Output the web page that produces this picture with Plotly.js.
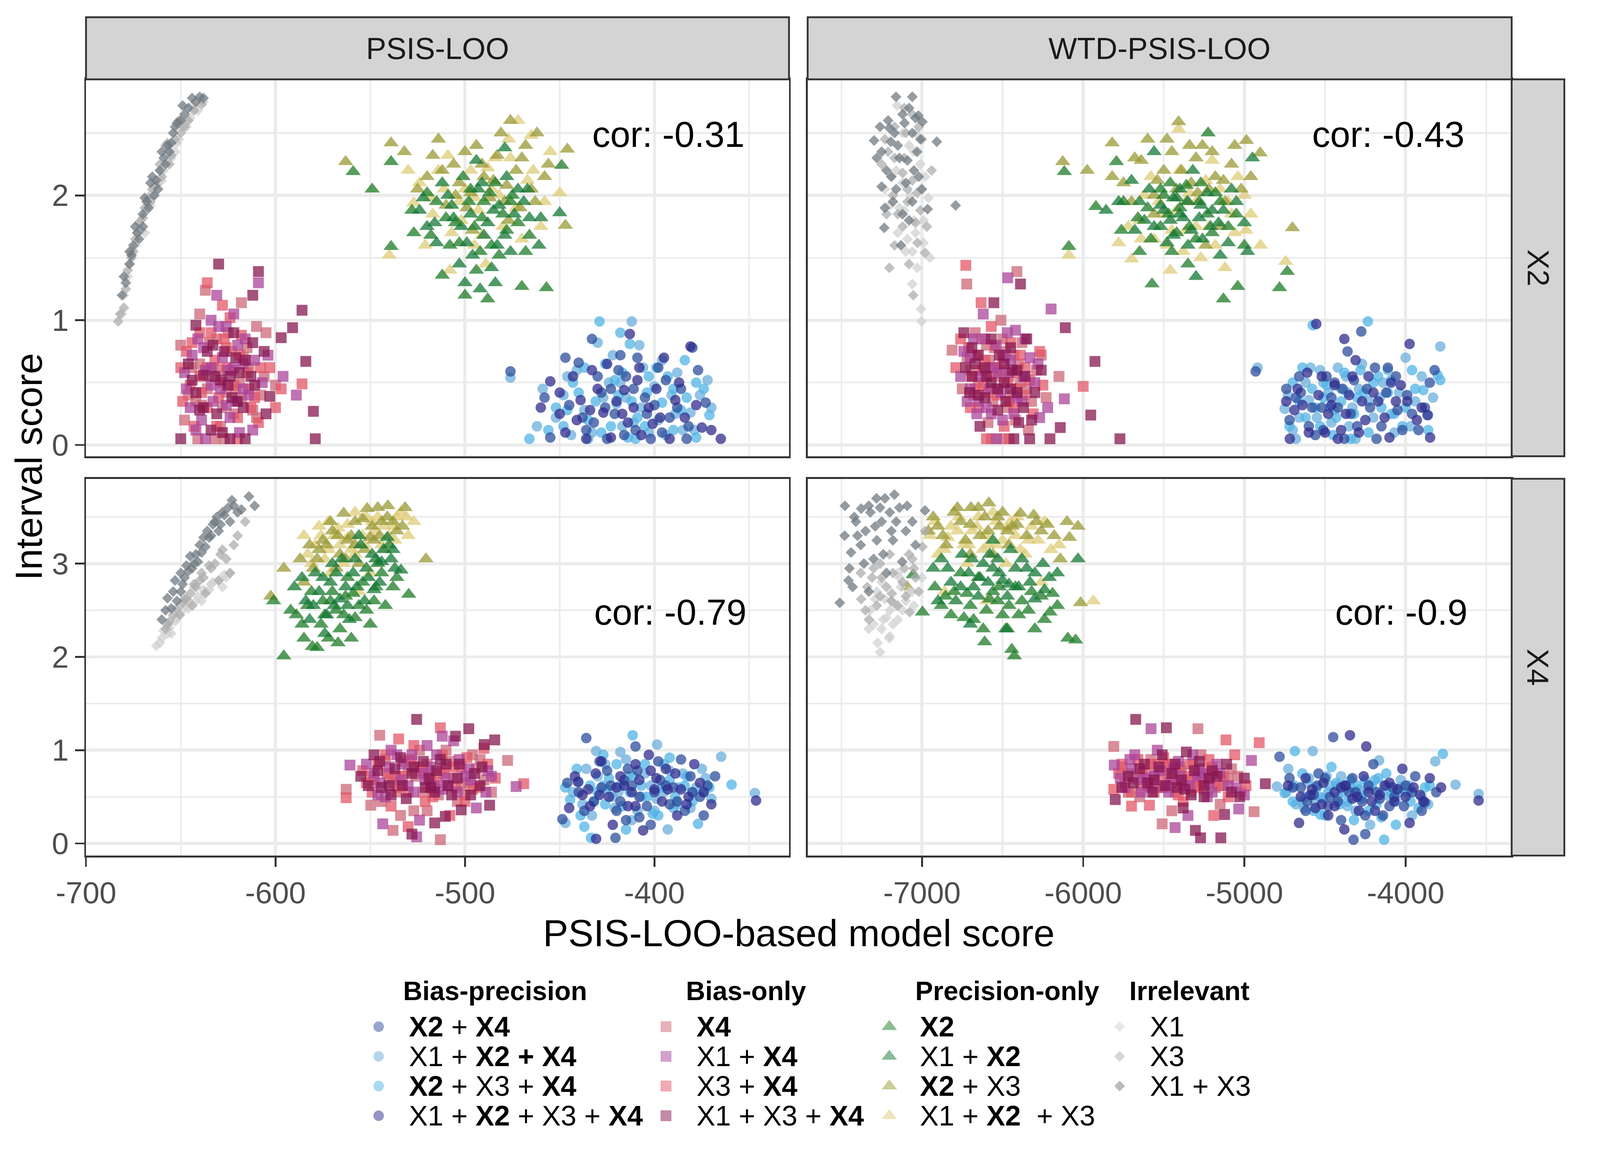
<!DOCTYPE html>
<html>
<head>
<meta charset="utf-8">
<script src="https://cdn.plot.ly/plotly-3.0.1.min.js"></script>
<style>
  html, body { margin: 0; padding: 0; background: #fff; overflow: hidden; }
</style>
</head>
<body>
<div id="chart"></div>
<script>
// ---- legend labels (one per sub-series) ----
const biasPrecisionLabels = ['<b>X2</b> + <b>X4</b>', 'X1 + <b>X2 + X4</b>', '<b>X2</b> + X3 + <b>X4</b>', 'X1 + <b>X2</b> + X3 + <b>X4</b>'];
const biasOnlyLabels = ['<b>X4</b>', 'X1 + <b>X4</b>', 'X3 + <b>X4</b>', 'X1 + X3 + <b>X4</b>'];
const precisionOnlyLabels = ['<b>X2</b>', 'X1 + <b>X2</b>', '<b>X2</b> + X3', 'X1 + <b>X2</b>  + X3'];
const irrelevantLabels = ['X1', 'X3', 'X1 + X3'];

const colLabels = ['PSIS-LOO', 'WTD-PSIS-LOO'];
const rowLabels = ['X2', 'X4'];
const corLabels = ['cor: -0.31', 'cor: -0.43', 'cor: -0.79', 'cor: -0.9'];

// tick labels (plain hyphen minus, as in the original)
const xTicksPsis = [-700, -600, -500, -400];
const xTickTextPsis = ['-700', '-600', '-500', '-400'];
const xTicksWtd = [-7000, -6000, -5000, -4000];
const xTickTextWtd = ['-7000', '-6000', '-5000', '-4000'];

// ---- points [model score, interval score], one inner list per sub-series ----
// PSIS-LOO / X2
const psisX2_biasPrecision = [
  [[-476,0.59],[-455,0.06],[-440,0.66],[-428,0.42],[-421,0.25],[-415,0.55],[-410,0.12],[-405,0.38],[-398,0.62],[-392,0.22],[-386,0.45],[-380,0.78],[-373,0.34],[-432,0.18],[-418,0.72],[-402,0.05],
   [-445,0.32],[-436,0.12],[-425,0.05],[-419,0.6],[-411,0.45],[-404,0.25],[-396,0.1],[-388,0.3],[-383,0.05],[-430,0.55],
   [-458,0.38],[-447,0.7],[-438,0.22],[-426,0.3],[-416,0.08],[-409,0.7],[-400,0.32],[-394,0.52],[-382,0.15],[-377,0.6],[-433,0.85],[-423,0.45]],
  [[-476,0.54],[-462,0.15],[-448,0.4],[-437,0.28],[-430,0.82],[-424,0.5],[-417,0.15],[-412,0.99],[-407,0.3],[-400,0.47],[-394,0.08],[-388,0.58],[-381,0.26],[-376,0.4],[-444,0.08],[-420,0.33],
   [-452,0.22],[-441,0.6],[-433,0.1],[-422,0.72],[-415,0.38],[-406,0.62],[-398,0.2],[-391,0.4],[-385,0.12],[-370,0.3],
   [-459,0.45],[-446,0.55],[-435,0.05],[-427,0.38],[-418,0.5],[-411,0.18],[-403,0.1],[-396,0.68],[-389,0.25],[-379,0.12],[-372,0.52],[-408,0.8]],
  [[-466,0.05],[-452,0.3],[-443,0.5],[-435,0.2],[-426,0.65],[-419,0.4],[-413,0.81],[-409,0.22],[-403,0.55],[-396,0.34],[-390,0.12],[-384,0.68],[-378,0.5],[-371,0.24],[-429,0.99],[-414,0.06],
   [-448,0.15],[-440,0.42],[-431,0.35],[-423,0.15],[-417,0.58],[-410,0.05],[-404,0.42],[-393,0.55],[-386,0.28],[-378,0.06],
   [-456,0.12],[-446,0.28],[-437,0.62],[-428,0.1],[-421,0.52],[-412,0.35],[-405,0.15],[-399,0.62],[-390,0.45],[-383,0.38],[-374,0.45],[-418,0.9]],
  [[-455,0.51],[-447,0.1],[-439,0.36],[-433,0.6],[-427,0.26],[-423,0.06],[-416,0.44],[-413,0.89],[-408,0.62],[-401,0.17],[-395,0.7],[-389,0.36],[-381,0.79],[-375,0.14],[-365,0.05],[-411,0.3],
   [-450,0.25],[-443,0.55],[-436,0.05],[-430,0.45],[-420,0.35],[-414,0.18],[-407,0.08],[-399,0.45],[-392,0.05],[-384,0.22],
   [-460,0.3],[-450,0.42],[-441,0.2],[-434,0.28],[-425,0.65],[-417,0.25],[-409,0.52],[-403,0.3],[-397,0.22],[-387,0.5],[-378,0.32],[-370,0.12]]
];
const psisX2_biasOnly = [
  [[-650,0.8],[-642,0.35],[-637,1.24],[-633,0.62],[-629,0.15],[-625,0.9],[-621,0.45],[-617,0.7],[-612,0.28],[-606,0.55],[-600,0.48],[-641,0.05],[-627,0.05],[-618,1.14],[-635,0.82],[-610,0.95],
   [-646,0.4],[-640,0.65],[-636,0.45],[-631,0.85],[-628,0.3],[-623,0.75],[-619,0.5],[-614,0.62],[-608,0.4],[-632,0.05],
   [-648,0.2],[-644,0.62],[-639,0.32],[-635,0.55],[-630,0.6],[-626,0.42],[-622,0.25],[-618,0.38],[-615,0.78],[-610,0.22],[-640,1.05],[-605,0.9]],
  [[-648,0.58],[-644,0.72],[-639,0.2],[-634,0.48],[-630,0.95],[-626,0.32],[-622,0.62],[-619,0.1],[-614,0.4],[-609,1.3],[-604,0.72],[-596,0.55],[-589,0.4],[-631,1.2],[-616,0.85],[-637,0.05],
   [-645,0.3],[-641,0.85],[-637,0.6],[-633,0.35],[-628,0.7],[-624,0.22],[-620,0.8],[-617,0.45],[-611,0.68],[-622,1.05],
   [-647,0.45],[-642,0.12],[-638,0.78],[-634,0.62],[-629,0.45],[-625,0.6],[-621,0.35],[-617,0.65],[-612,0.12],[-607,0.5],[-626,0.95],[-634,1.0]],
  [[-650,0.62],[-645,0.48],[-640,0.9],[-636,0.3],[-632,0.68],[-628,0.5],[-624,1.02],[-620,0.22],[-615,0.58],[-611,0.38],[-603,0.62],[-597,0.45],[-586,0.49],[-626,0.78],[-636,1.3],[-609,0.18],
   [-647,0.75],[-643,0.15],[-639,0.42],[-634,0.9],[-630,0.38],[-626,0.62],[-622,0.48],[-618,0.88],[-613,0.3],[-620,0.05],
   [-649,0.35],[-644,0.82],[-640,0.55],[-636,0.62],[-631,0.15],[-627,0.85],[-623,0.6],[-619,0.72],[-614,0.45],[-608,0.62],[-628,1.12],[-600,0.3]],
  [[-650,0.05],[-642,0.96],[-638,0.56],[-634,0.12],[-630,1.45],[-627,0.75],[-623,0.38],[-619,0.58],[-616,0.05],[-612,0.82],[-609,1.39],[-597,0.86],[-591,0.94],[-586,1.08],[-584,0.67],[-580,0.27],[-579,0.05],[-603,0.39],[-622,0.9],[-631,0.25],
   [-644,0.52],[-640,0.28],[-636,0.75],[-632,0.55],[-628,0.1],[-625,0.48],[-621,0.7],[-617,0.3],[-613,0.55],[-606,0.75],
   [-646,0.65],[-642,0.42],[-638,0.3],[-633,0.8],[-629,0.52],[-624,0.55],[-620,0.35],[-616,0.68],[-611,0.48],[-605,0.25],[-624,0.05],[-612,1.2]]
];
const psisX2_precisionOnly = [
  [[-559,2.19],[-549,2.05],[-539,2.27],[-539,1.59],[-527,1.7],[-520,2.02],[-512,1.36],[-505,1.78],[-498,1.95],[-492,1.55],[-488,1.17],[-484,2.1],[-478,1.72],[-470,1.27],[-457,1.26],[-449,2.24],
   [-515,1.95],[-508,1.6],[-501,2.15],[-495,1.75],[-490,1.95],[-486,1.6],[-480,1.85],[-475,2.0],[-468,1.55],[-494,1.4],
   [-528,1.88],[-518,1.68],[-510,1.82],[-503,1.62],[-497,2.05],[-491,1.82],[-487,2.02],[-482,1.52],[-476,1.95],[-472,1.78],[-466,1.68],[-500,1.2]],
  [[-524,1.88],[-515,1.62],[-509,2.0],[-503,1.45],[-497,1.85],[-494,2.28],[-490,1.68],[-486,1.42],[-482,1.92],[-476,1.55],[-472,2.05],[-466,1.82],[-461,1.6],[-450,1.86],[-500,1.3],[-479,2.38],
   [-520,1.75],[-512,2.1],[-506,1.82],[-499,1.62],[-493,2.05],[-488,1.78],[-483,1.6],[-478,2.15],[-469,1.95],[-484,1.3],
   [-522,1.98],[-516,1.78],[-507,1.92],[-502,1.75],[-496,1.52],[-491,2.1],[-485,1.88],[-479,1.68],[-474,1.85],[-467,2.05],[-460,1.82],[-492,1.25]],
  [[-563,2.27],[-539,2.42],[-517,2.32],[-510,1.92],[-503,2.1],[-496,1.72],[-491,2.25],[-487,1.98],[-481,2.5],[-477,1.8],[-473,2.2],[-468,2.4],[-463,1.95],[-458,2.15],[-446,2.37],[-447,1.76],
   [-525,2.05],[-514,2.45],[-506,2.25],[-499,1.9],[-494,2.4],[-485,2.12],[-479,1.95],[-471,1.9],[-462,2.5],[-476,2.6],
   [-532,2.35],[-520,2.15],[-512,2.2],[-505,2.0],[-497,2.02],[-490,2.15],[-483,2.32],[-478,2.08],[-470,2.3],[-465,2.05],[-456,2.25],[-500,2.35]],
  [[-540,1.52],[-527,1.94],[-521,1.6],[-514,2.2],[-507,1.7],[-500,2.05],[-493,1.88],[-489,1.45],[-484,2.3],[-472,2.6],[-470,1.65],[-465,2.48],[-460,1.75],[-455,2.35],[-450,2.02],[-508,1.4],
   [-530,2.2],[-517,1.85],[-511,2.05],[-503,1.95],[-497,2.2],[-491,1.68],[-486,2.05],[-480,1.75],[-476,2.3],[-467,2.12],
   [-524,2.1],[-518,1.98],[-509,2.32],[-502,1.8],[-495,1.98],[-488,2.22],[-482,2.0],[-477,2.45],[-473,1.9],[-464,2.2],[-458,1.95],[-495,1.6]]
];
const psisX2_irrelevant = [
  [[-681,1.05],[-678,1.35],[-674,1.6],[-671,1.8],[-666,1.92],[-662,2.1],[-659,2.2],[-655,2.3],[-651,2.45],[-647,2.55],[-643,2.7],[-638,2.75],[-664,2.0],[-652,2.42],[-669,1.7],[-657,2.35],
   [-676,1.55],[-668,1.88],[-660,2.12],[-653,2.35],[-645,2.62],[-641,2.68],
   [-680,1.2],[-677,1.45],[-673,1.7],[-665,2.02],[-661,2.2],[-656,2.4],[-649,2.55],[-644,2.72]],
  [[-683,0.99],[-680,1.1],[-676,1.5],[-672,1.78],[-669,1.9],[-665,2.05],[-660,2.15],[-656,2.25],[-653,2.45],[-650,2.5],[-646,2.6],[-639,2.73],[-667,1.98],[-658,2.4],[-678,1.4],
   [-674,1.65],[-670,1.82],[-663,2.08],[-655,2.32],[-648,2.55],[-643,2.68],
   [-682,1.05],[-679,1.25],[-675,1.55],[-671,1.72],[-666,1.95],[-661,2.25],[-657,2.42],[-651,2.6]],
  [[-681,1.2],[-679,1.3],[-677,1.45],[-675,1.6],[-673,1.7],[-670,1.85],[-668,1.95],[-664,2.0],[-666,2.1],[-661,2.2],[-659,2.3],[-657,2.4],[-654,2.5],[-652,2.58],[-648,2.65],[-644,2.78],[-640,2.79],[-662,2.05],[-656,2.35],[-670,1.75],
   [-676,1.52],[-672,1.65],[-667,1.9],[-663,2.12],[-658,2.25],[-655,2.42],[-650,2.6],[-646,2.7],
   [-680,1.35],[-677,1.55],[-674,1.75],[-669,1.98],[-665,2.15],[-660,2.35],[-653,2.55],[-649,2.72],[-642,2.75],[-638,2.78]]
];

// WTD-PSIS-LOO / X2
const wtdX2_biasPrecision = [
  [[-4930,0.59],[-4720,0.2],[-4650,0.42],[-4560,0.08],[-4490,0.55],[-4420,0.3],[-4360,0.75],[-4300,0.15],[-4240,0.45],[-4180,0.05],[-4110,0.62],[-4050,0.28],[-3990,0.4],[-3920,0.12],[-3850,0.5],[-4275,0.91],
   [-4680,0.38],[-4600,0.15],[-4520,0.3],[-4440,0.5],[-4380,0.05],[-4320,0.52],[-4220,0.3],[-4150,0.15],[-4060,0.55],[-3960,0.25],
   [-4740,0.45],[-4660,0.55],[-4580,0.3],[-4510,0.12],[-4460,0.38],[-4390,0.45],[-4340,0.25],[-4190,0.62],[-4120,0.42],[-4020,0.12],[-3880,0.3],[-3820,0.6]],
  [[-4918,0.62],[-4750,0.29],[-4680,0.05],[-4600,0.36],[-4530,0.6],[-4460,0.18],[-4400,0.45],[-4330,0.3],[-4270,0.65],[-4200,0.22],[-4140,0.5],[-4070,0.1],[-4000,0.7],[-3940,0.35],[-3860,0.24],[-3785,0.79],
   [-4700,0.12],[-4620,0.5],[-4550,0.22],[-4480,0.42],[-4420,0.62],[-4350,0.15],[-4290,0.45],[-4160,0.38],[-4090,0.25],[-3900,0.55],
   [-4730,0.4],[-4660,0.22],[-4590,0.62],[-4510,0.5],[-4440,0.28],[-4370,0.55],[-4310,0.05],[-4230,0.35],[-4110,0.6],[-4040,0.42],[-3970,0.15],[-3830,0.38]],
  [[-4700,0.5],[-4620,0.22],[-4576,0.96],[-4510,0.38],[-4450,0.08],[-4380,0.58],[-4320,0.25],[-4260,0.42],[-4234,0.99],[-4150,0.3],[-4090,0.52],[-4020,0.15],[-3960,0.6],[-3890,0.44],[-3801,0.56],[-3785,0.52],
   [-4660,0.35],[-4580,0.45],[-4530,0.15],[-4470,0.3],[-4400,0.35],[-4340,0.05],[-4280,0.6],[-4200,0.5],[-4110,0.42],[-4000,0.3],
   [-4720,0.15],[-4640,0.62],[-4560,0.3],[-4490,0.48],[-4430,0.22],[-4360,0.42],[-4300,0.38],[-4230,0.1],[-4170,0.55],[-4070,0.25],[-3940,0.45],[-3860,0.12]],
  [[-4718,0.05],[-4640,0.32],[-4554,0.97],[-4480,0.25],[-4420,0.05],[-4350,0.4],[-4290,0.1],[-4230,0.55],[-4170,0.35],[-4100,0.06],[-4030,0.48],[-3975,0.81],[-3930,0.2],[-3864,0.24],[-3848,0.06],[-4380,0.85],
   [-4690,0.28],[-4610,0.58],[-4540,0.4],[-4500,0.1],[-4440,0.48],[-4370,0.25],[-4310,0.68],[-4250,0.2],[-4130,0.22],[-4060,0.35],
   [-4740,0.35],[-4670,0.45],[-4600,0.1],[-4520,0.55],[-4460,0.32],[-4400,0.12],[-4330,0.55],[-4270,0.35],[-4200,0.42],[-4090,0.5],[-3990,0.35],[-3900,0.3]]
];
const wtdX2_biasOnly = [
  [[-6813,0.76],[-6722,1.29],[-6680,0.4],[-6630,0.85],[-6590,0.18],[-6550,0.62],[-6510,1.0],[-6470,0.3],[-6430,0.72],[-6390,0.5],[-6340,0.12],[-6290,0.6],[-6230,0.38],[-6150,0.55],[-6570,0.05],[-6411,1.39],
   [-6700,0.6],[-6650,0.5],[-6600,0.8],[-6560,0.35],[-6520,0.55],[-6480,0.75],[-6440,0.4],[-6400,0.65],[-6350,0.45],[-6500,0.05],
   [-6750,0.45],[-6720,0.7],[-6670,0.9],[-6620,0.6],[-6580,0.68],[-6540,0.45],[-6500,0.85],[-6460,0.55],[-6420,0.2],[-6380,0.82],[-6320,0.35],[-6260,0.72]],
  [[-6760,0.55],[-6700,0.7],[-6660,0.25],[-6620,1.05],[-6580,0.45],[-6540,0.8],[-6500,0.2],[-6460,0.58],[-6420,0.92],[-6380,0.35],[-6330,0.7],[-6270,0.22],[-6199,1.09],[-6117,0.37],[-6468,1.34],[-6538,0.05],
   [-6720,0.35],[-6680,0.85],[-6640,0.55],[-6600,0.3],[-6560,0.62],[-6510,0.42],[-6470,0.9],[-6430,0.25],[-6370,0.55],[-6300,0.5],
   [-6740,0.75],[-6700,0.45],[-6650,0.35],[-6610,0.85],[-6570,0.25],[-6530,0.58],[-6490,0.72],[-6450,0.68],[-6410,0.38],[-6360,0.85],[-6280,0.65],[-6220,0.3]],
  [[-6790,0.62],[-6728,1.44],[-6690,0.55],[-6650,0.3],[-6610,0.68],[-6570,0.95],[-6530,0.4],[-6490,0.15],[-6450,0.82],[-6410,0.45],[-6360,0.62],[-6310,0.25],[-6250,0.48],[-6000,0.47],[-6633,1.14],[-6459,0.05],
   [-6710,0.78],[-6670,0.45],[-6630,0.6],[-6590,0.42],[-6550,0.78],[-6510,0.6],[-6470,0.5],[-6430,0.3],[-6390,0.72],[-6600,0.05],
   [-6760,0.85],[-6700,0.3],[-6660,0.72],[-6620,0.48],[-6580,0.55],[-6540,0.62],[-6500,0.7],[-6460,0.35],[-6420,0.58],[-6370,0.4],[-6330,0.52],[-6270,0.75]],
  [[-6740,0.9],[-6705,0.42],[-6670,0.65],[-6640,0.15],[-6600,0.55],[-6554,1.14],[-6520,0.72],[-6480,0.35],[-6440,0.6],[-6389,1.29],[-6350,0.85],[-6300,0.42],[-6206,0.05],[-6142,0.14],[-6111,0.94],[-5953,0.24],[-5927,0.67],[-5772,0.05],[-6332,0.05],[-6400,0.18],
   [-6690,0.55],[-6650,0.72],[-6610,0.38],[-6570,0.5],[-6530,0.28],[-6490,0.65],[-6450,0.45],[-6410,0.6],[-6370,0.3],[-6430,0.05],
   [-6730,0.62],[-6690,0.78],[-6650,0.4],[-6610,0.62],[-6570,0.85],[-6530,0.45],[-6490,0.5],[-6450,0.78],[-6410,0.42],[-6360,0.55],[-6320,0.2],[-6260,0.6]]
];
const wtdX2_precisionOnly = [
  [[-6117,2.19],[-6089,1.59],[-5921,1.91],[-5794,2.27],[-5763,1.72],[-5650,1.55],[-5573,1.29],[-5500,2.0],[-5420,1.7],[-5350,1.45],[-5280,1.95],[-5225,2.5],[-5130,1.17],[-5041,1.27],[-4782,1.26],[-4734,1.39],
   [-5600,1.9],[-5520,1.75],[-5460,2.1],[-5400,1.9],[-5340,1.75],[-5270,2.1],[-5200,1.7],[-5150,1.95],[-5050,1.85],[-5450,1.55],
   [-5750,1.95],[-5660,1.82],[-5580,1.65],[-5520,2.05],[-5470,1.85],[-5420,1.98],[-5360,2.08],[-5300,1.65],[-5230,1.85],[-5180,2.02],[-5100,1.75],[-5000,1.6]],
  [[-5858,1.88],[-5700,2.12],[-5620,1.8],[-5560,2.35],[-5480,1.62],[-5440,1.98],[-5380,1.82],[-5320,2.2],[-5260,1.65],[-5200,1.88],[-5150,1.52],[-5080,2.05],[-5000,1.78],[-4950,2.3],[-5300,1.35],[-5400,2.05],
   [-5680,1.72],[-5590,2.05],[-5520,1.92],[-5460,1.8],[-5350,1.95],[-5280,1.82],[-5230,2.02],[-5160,1.78],[-5100,1.62],[-5350,1.6],
   [-5780,1.95],[-5650,1.95],[-5560,1.75],[-5500,1.88],[-5440,1.68],[-5400,1.85],[-5330,1.72],[-5270,1.92],[-5210,1.75],[-5130,1.88],[-5050,1.95],[-4980,1.55]],
  [[-6127,2.27],[-5975,2.2],[-5820,2.42],[-5700,1.95],[-5640,2.28],[-5560,1.85],[-5500,2.2],[-5408,2.59],[-5360,1.95],[-5300,2.3],[-5220,2.05],[-5150,1.75],[-5080,2.25],[-4987,2.44],[-4902,2.34],[-4702,1.74],
   [-5750,2.1],[-5600,2.45],[-5450,2.35],[-5420,2.05],[-5330,2.1],[-5260,2.4],[-5180,2.15],[-5120,1.95],[-5020,2.05],[-5240,1.6],
   [-5820,2.15],[-5680,2.3],[-5540,2.12],[-5480,2.45],[-5390,2.2],[-5340,2.4],[-5290,2.02],[-5200,2.35],[-5130,2.12],[-5060,2.4],[-4960,2.15],[-5560,2.0]],
  [[-6089,1.52],[-5699,1.49],[-5620,2.0],[-5560,1.65],[-5500,1.85],[-5408,2.53],[-5380,1.55],[-5300,1.75],[-5240,2.12],[-5180,1.6],[-5100,1.95],[-5040,2.15],[-4960,1.85],[-4900,1.6],[-4744,1.47],[-5460,1.4],
   [-5720,1.75],[-5650,1.8],[-5580,2.15],[-5450,1.72],[-5340,2.02],[-5270,1.5],[-5200,2.28],[-5120,1.42],[-5060,1.7],[-5000,2.0],
   [-5780,1.62],[-5640,1.65],[-5530,1.95],[-5480,1.6],[-5420,1.88],[-5360,1.72],[-5300,1.95],[-5220,1.75],[-5150,2.05],[-5080,1.85],[-4990,1.72],[-5400,2.2]]
];
const wtdX2_irrelevant = [
  [[-7003,0.99],[-7006,1.09],[-7060,1.29],[-7030,1.42],[-7100,1.55],[-6990,1.62],[-7150,1.7],[-7050,1.8],[-7200,1.92],[-6960,1.98],[-7120,2.1],[-7010,2.25],[-7230,2.05],[-7080,2.4],[-6950,1.5],[-7155,2.72],
   [-7040,1.7],[-7110,1.88],[-7070,2.0],[-6980,2.15],[-7160,2.2],[-7040,2.5],
   [-7090,1.65],[-7140,1.9],[-7010,2.05],[-7190,2.15],[-7050,2.35],[-7120,2.5],[-6990,1.8],[-7060,1.55]],
  [[-7054,1.2],[-6981,1.54],[-7028,1.62],[-7202,1.42],[-7120,1.75],[-7010,1.88],[-7180,2.0],[-7060,2.12],[-6940,2.2],[-7250,2.25],[-7110,2.3],[-7000,2.45],[-7170,2.55],[-7060,2.65],[-7090,1.95],[-6970,1.75],
   [-7080,1.45],[-7150,1.85],[-7030,2.02],[-7120,2.18],[-7210,2.35],[-7100,2.5],
   [-7170,1.6],[-7040,1.78],[-7220,1.85],[-7090,2.05],[-7170,2.3],[-7020,2.55],[-7110,2.7],[-7230,2.45]],
  [[-7161,2.79],[-7060,2.79],[-7022,2.64],[-6997,2.59],[-7108,2.58],[-7202,2.54],[-7297,2.44],[-7193,2.43],[-6908,2.43],[-6791,1.92],[-7250,2.07],[-7234,1.74],[-6965,1.89],[-7140,2.3],[-7050,2.2],[-7180,1.95],[-7100,2.1],[-7030,2.35],[-7220,2.2],[-7080,1.8],[-7000,2.05],[-7130,1.6],
   [-7150,2.4],[-7060,2.5],[-7120,2.65],[-7210,2.6],[-7020,2.15],[-7160,2.05],[-7090,2.28],[-7250,2.35],
   [-7280,2.3],[-7170,2.5],[-7080,2.7],[-7010,2.45],[-7230,1.9],[-7120,1.85],[-7060,1.95],[-7190,2.15],[-7040,2.62],[-7260,2.55]]
];

// PSIS-LOO / X4
const psisX4_biasPrecision = [
  [[-448.6,0.26],[-436,1.13],[-428,0.6],[-420,0.35],[-414,0.8],[-408,0.5],[-402,0.2],[-397,0.68],[-392,0.42],[-386,0.9],[-380,0.55],[-374,0.3],[-368,0.72],[-420.6,0.06],[-432,0.45],[-410,1.04],
   [-440,0.55],[-425,0.78],[-418,0.45],[-412,0.62],[-404,0.4],[-398,0.88],[-390,0.6],[-384,0.35],[-376,0.5],[-415,0.25],
   [-446,0.65],[-437,0.35],[-429,0.88],[-423,0.62],[-416,0.68],[-409,0.78],[-400,0.55],[-394,0.62],[-388,0.45],[-381,0.72],[-372,0.62],[-408,0.28]],
  [[-447,0.22],[-440,0.66],[-433,0.3],[-426,0.85],[-419,0.55],[-412,0.25],[-405,0.75],[-399,0.48],[-393,0.15],[-387,0.6],[-381,0.38],[-375,0.8],[-364.8,0.93],[-347,0.54],[-430.8,0.99],[-398.6,1.06],
   [-438,0.42],[-430,0.72],[-422,0.5],[-415,0.9],[-409,0.35],[-402,0.62],[-395,0.55],[-385,0.75],[-378,0.6],[-370,0.48],
   [-443,0.55],[-436,0.8],[-427,0.62],[-421,0.38],[-414,0.72],[-407,0.5],[-400,0.35],[-392,0.78],[-388,0.42],[-380,0.55],[-373,0.7],[-418,0.98]],
  [[-444.5,0.47],[-437,0.18],[-430,0.55],[-424,0.7],[-417,0.4],[-411.5,1.16],[-407,0.62],[-401,0.32],[-395,0.85],[-389,0.5],[-383,0.72],[-377,0.21],[-371,0.6],[-359.3,0.63],[-433.5,0.06],[-415,0.15],
   [-441,0.8],[-434,0.62],[-426,0.42],[-420,0.85],[-413,0.55],[-404,0.5],[-398,0.3],[-392,0.68],[-380,0.45],[-392,0.92],
   [-447,0.6],[-439,0.3],[-432,0.45],[-425,0.58],[-418,0.62],[-411,0.72],[-405,0.85],[-396,0.6],[-390,0.38],[-384,0.62],[-374,0.55],[-427,0.95]],
  [[-440.4,0.66],[-434,0.4],[-428,0.88],[-422,0.2],[-416,0.62],[-410,0.4],[-406,0.14],[-400,0.58],[-394,0.8],[-388,0.3],[-382,0.5],[-376,0.65],[-370,0.42],[-346.4,0.46],[-430.8,0.05],[-403,0.95],
   [-445,0.38],[-438,0.52],[-431,0.75],[-424,0.5],[-418,0.72],[-412,0.55],[-402,0.78],[-396,0.45],[-386,0.58],[-379,0.85],
   [-442,0.72],[-435,0.58],[-429,0.52],[-420,0.6],[-414,0.4],[-408,0.68],[-399,0.7],[-393,0.58],[-389,0.75],[-383,0.42],[-374,0.55],[-410,0.85]]
];
const psisX4_biasOnly = [
  [[-562.7,0.58],[-549.7,0.41],[-545,1.16],[-540,0.7],[-534,0.3],[-528,0.88],[-522,0.55],[-516,0.75],[-510,1.0],[-504,0.45],[-498,0.65],[-492,0.9],[-486,0.55],[-477.5,0.89],[-538,0.14],[-513,0.04],
   [-542,0.9],[-536,0.55],[-530,0.78],[-524,1.0],[-518,0.62],[-512,0.8],[-506,0.7],[-500,0.52],[-494,0.8],[-520,0.35],
   [-550,0.72],[-544,0.45],[-538,0.65],[-532,0.88],[-526,0.72],[-520,0.85],[-514,0.52],[-508,0.88],[-502,0.62],[-496,0.95],[-490,0.68],[-527,0.35]],
  [[-560.7,0.84],[-548,0.75],[-542,0.5],[-536,0.95],[-530,0.62],[-524,0.25],[-518,0.82],[-512,0.58],[-506,1.1],[-500,0.72],[-494,0.38],[-488,0.78],[-473,0.61],[-543.4,0.21],[-525.5,0.07],[-520,1.05],
   [-545,0.65],[-539,1.0],[-533,0.85],[-527,0.55],[-521,0.68],[-515,0.95],[-509,0.62],[-503,0.9],[-497,0.68],[-489,0.55],
   [-552,0.85],[-546,0.52],[-540,0.82],[-534,0.68],[-528,0.95],[-522,0.75],[-516,0.62],[-510,0.7],[-504,0.55],[-498,0.8],[-486,0.72],[-512,1.15]],
  [[-562.7,0.49],[-552,0.65],[-546,0.85],[-539,0.4],[-533,0.72],[-527,1.05],[-521,0.45],[-515,0.65],[-508,0.3],[-502,0.82],[-496,0.58],[-490,1.02],[-484,0.7],[-469,0.64],[-513,1.24],[-530,0.18],
   [-549,0.55],[-541,0.75],[-535,0.6],[-529,0.9],[-523,0.78],[-517,0.5],[-511,0.75],[-505,0.6],[-499,0.92],[-493,0.6],
   [-554,0.78],[-548,0.68],[-542,0.95],[-536,0.72],[-530,0.55],[-524,0.82],[-518,0.72],[-512,0.95],[-506,0.82],[-500,0.45],[-488,0.85],[-535,1.12]],
  [[-555,0.72],[-548,0.95],[-544,0.6],[-537,0.8],[-531,0.48],[-525.5,1.33],[-519,0.7],[-513,0.9],[-507,0.52],[-498,1.23],[-489.8,1.06],[-484.3,1.11],[-487,0.41],[-502,0.36],[-510.4,0.29],[-528,0.1],[-518,0.6],[-495,0.75],
   [-546,0.78],[-540,0.62],[-534,0.92],[-528,0.75],[-522,0.88],[-516,0.55],[-510,0.85],[-504,0.7],[-492,0.62],[-516,0.22],
   [-551,0.62],[-545,0.88],[-539,0.52],[-533,0.62],[-527,0.82],[-521,0.6],[-515,0.78],[-509,0.62],[-503,0.85],[-497,0.52],[-491,0.82],[-505,1.15]]
];
const psisX4_precisionOnly = [
  [[-601,2.6],[-595.6,2.01],[-592,2.5],[-586,2.35],[-580.5,2.11],[-578,2.1],[-574,2.45],[-570,2.7],[-566,2.3],[-562,2.85],[-560,2.2],[-556,2.55],[-550,2.35],[-546,3.0],[-540,3.2],[-529.7,2.67],
   [-575,2.6],[-568,2.5],[-563,2.65],[-558,2.42],[-554,2.8],[-548,2.6],[-544,2.9],[-538,2.75],[-572,2.2],[-583,2.55],
   [-589,2.45],[-581,2.7],[-576,2.35],[-571,2.6],[-564,2.45],[-559,2.68],[-552,2.5],[-547,2.75],[-542,2.55],[-536,2.85],[-585,2.2],[-567,2.15]],
  [[-590,2.75],[-584,2.6],[-579,2.9],[-574,2.25],[-569,2.55],[-565,3.05],[-561,2.4],[-557,2.75],[-553,2.6],[-549,3.1],[-545,2.8],[-541,3.28],[-537,2.95],[-533.8,2.93],[-582,2.4],[-568,2.9],
   [-577,2.7],[-571,2.8],[-566,2.62],[-559,2.9],[-555,3.2],[-551,2.85],[-547,3.05],[-543,3.15],[-539,3.05],[-562,2.55],
   [-586,2.85],[-580,2.55],[-575,2.85],[-570,3.0],[-563,2.75],[-558,3.05],[-552,2.95],[-548,2.72],[-544,3.02],[-538,3.15],[-556,3.3],[-573,2.45]],
  [[-602.5,2.65],[-595.6,2.95],[-585,2.8],[-578,3.05],[-573,3.2],[-568,2.95],[-564,3.54],[-560,3.3],[-556,3.0],[-551.6,3.59],[-548,3.25],[-544,3.45],[-540.7,3.62],[-536,3.35],[-531.6,3.6],[-520.6,3.05],
   [-580,2.95],[-575,3.25],[-570,3.35],[-566,3.1],[-562,3.25],[-558,3.45],[-553,3.15],[-549,3.4],[-545,3.3],[-541,3.5],
   [-587,3.05],[-582,3.2],[-577,3.15],[-571,3.45],[-567,3.3],[-563,3.05],[-558,3.2],[-554,3.48],[-550,3.28],[-546,3.6],[-538,3.45],[-533,3.4]],
  [[-583,3.1],[-576,3.3],[-571,2.9],[-566,3.2],[-562,3.42],[-558,3.1],[-554,3.3],[-550,2.9],[-546,3.5],[-542,3.15],[-538,3.4],[-534,3.55],[-530,3.3],[-527,3.45],[-572,3.45],[-556,2.7],
   [-579,3.2],[-574,3.05],[-569,3.3],[-564,3.0],[-560,3.15],[-552,3.5],[-548,3.35],[-544,3.2],[-540,3.3],[-536,3.5],
   [-585,3.3],[-581,3.0],[-577,3.4],[-572,3.15],[-567,3.38],[-562,3.28],[-558,3.55],[-553,3.2],[-549,3.45],[-543,3.4],[-537,3.25],[-531,3.5]]
];
const psisX4_irrelevant = [
  [[-662.9,2.12],[-660,2.2],[-656,2.31],[-653,2.38],[-649,2.5],[-645,2.58],[-641,2.65],[-637,2.7],[-633,2.8],[-630,2.82],[-627,2.88],[-624,2.9],[-643,2.75],[-655,2.25],
   [-659,2.28],[-651,2.45],[-646,2.52],[-639,2.6],[-635,2.72],[-628,2.75],
   [-661,2.15],[-657,2.25],[-652,2.42],[-647,2.55],[-642,2.6],[-638,2.72],[-634,2.78],[-626,2.85]],
  [[-658,2.3],[-654,2.45],[-650.5,2.45],[-647,2.62],[-642,2.75],[-637,2.68],[-634,2.95],[-630,2.82],[-628,3.15],[-624,2.9],[-620,3.3],[-616,3.45],[-639,2.9],[-644,2.55],
   [-656,2.38],[-649,2.58],[-645,2.68],[-640,2.82],[-632,3.0],[-626,3.05],
   [-657,2.35],[-652,2.52],[-648,2.62],[-643,2.78],[-638,2.85],[-635,2.98],[-629,3.1],[-622,3.2]],
  [[-660,2.4],[-657,2.63],[-653,2.82],[-650,2.7],[-646,2.92],[-643,3.0],[-641,3.02],[-639,3.12],[-637,3.18],[-635,3.28],[-633,3.42],[-630,3.35],[-627,3.52],[-624,3.45],[-622,3.62],[-618,3.58],[-614,3.72],[-611,3.62],[-645,3.08],[-631,3.5],[-648,2.85],[-652,2.6],
   [-655,2.52],[-649,2.78],[-644,2.95],[-640,3.2],[-636,3.35],[-629,3.42],[-625,3.6],[-620,3.55],
   [-658,2.5],[-654,2.7],[-650,2.9],[-647,2.98],[-642,3.1],[-638,3.28],[-634,3.3],[-632,3.45],[-628,3.55],[-623,3.68]]
];

// WTD-PSIS-LOO / X4
const wtdX4_biasPrecision = [
  [[-4782,0.93],[-4700,0.6],[-4620,0.35],[-4540,0.75],[-4470,0.5],[-4400,0.25],[-4330,0.7],[-4270,0.45],[-4200,0.85],[-4140,0.3],[-4080,0.6],[-4010,0.4],[-3940,0.72],[-3880,0.44],[-4323,0.04],[-4449,1.14],
   [-4650,0.6],[-4570,0.52],[-4500,0.7],[-4420,0.45],[-4350,0.55],[-4250,0.3],[-4180,0.55],[-4100,0.4],[-4000,0.62],[-4250,0.1],
   [-4720,0.7],[-4610,0.45],[-4550,0.62],[-4480,0.4],[-4380,0.62],[-4310,0.55],[-4230,0.62],[-4160,0.48],[-4070,0.5],[-3960,0.55],[-3900,0.35],[-3810,0.55]],
  [[-4798,0.61],[-4728,0.8],[-4650,0.45],[-4576,0.99],[-4500,0.3],[-4430,0.62],[-4360,0.4],[-4290,0.58],[-4220,0.2],[-4164,0.89],[-4100,0.5],[-4030,0.68],[-3960,0.3],[-3816,0.88],[-3690,0.63],[-3547,0.53],
   [-4680,0.42],[-4610,0.65],[-4530,0.5],[-4470,0.62],[-4400,0.72],[-4310,0.35],[-4240,0.58],[-4150,0.55],[-4060,0.45],[-3900,0.5],
   [-4740,0.55],[-4630,0.38],[-4560,0.45],[-4490,0.72],[-4420,0.5],[-4340,0.6],[-4270,0.48],[-4190,0.68],[-4120,0.62],[-4040,0.55],[-3980,0.62],[-3860,0.42]],
  [[-4750,0.54],[-4687,0.99],[-4600,0.7],[-4528,0.31],[-4460,0.82],[-4390,0.55],[-4320,0.25],[-4250,0.68],[-4180,0.42],[-4120,0.75],[-4060,0.2],[-3990,0.55],[-3920,0.38],[-3850,0.62],[-3769,0.96],[-4133,0.04],
   [-4700,0.45],[-4620,0.5],[-4550,0.6],[-4480,0.55],[-4410,0.42],[-4340,0.68],[-4280,0.5],[-4210,0.62],[-4150,0.28],[-4030,0.6],
   [-4690,0.62],[-4640,0.75],[-4570,0.35],[-4510,0.48],[-4430,0.65],[-4360,0.45],[-4300,0.62],[-4230,0.35],[-4170,0.7],[-4090,0.55],[-3970,0.45],[-3880,0.6]],
  [[-4661,0.22],[-4590,0.52],[-4510,0.65],[-4440,0.4],[-4345,1.16],[-4300,0.5],[-4244,1.04],[-4190,0.35],[-4130,0.62],[-4070,0.45],[-3975,0.22],[-3910,0.52],[-3780,0.6],[-3547,0.46],[-4380,0.15],[-4020,0.8],
   [-4620,0.7],[-4560,0.38],[-4480,0.3],[-4400,0.6],[-4330,0.48],[-4260,0.72],[-4210,0.45],[-4100,0.65],[-4000,0.5],[-3850,0.7],
   [-4730,0.62],[-4650,0.5],[-4580,0.58],[-4520,0.42],[-4440,0.55],[-4370,0.62],[-4290,0.35],[-4230,0.55],[-4160,0.52],[-4050,0.58],[-3950,0.6],[-3890,0.45]]
];
const wtdX4_biasOnly = [
  [[-5810,1.04],[-5720,0.75],[-5650,0.5],[-5580,0.9],[-5510,0.62],[-5450,0.35],[-5390,0.78],[-5330,0.55],[-5270,0.95],[-5210,0.68],[-5150,0.42],[-5080,0.8],[-5020,0.55],[-4940,0.34],[-5510,0.21],[-5288,1.23],
   [-5680,0.7],[-5600,0.62],[-5540,0.85],[-5470,0.7],[-5410,0.6],[-5350,0.85],[-5300,0.65],[-5240,0.8],[-5180,0.6],[-5100,0.7],
   [-5760,0.82],[-5700,0.55],[-5630,0.75],[-5560,0.78],[-5490,0.82],[-5430,0.55],[-5370,0.68],[-5310,0.75],[-5250,0.58],[-5190,0.75],[-5130,0.62],[-5040,0.72]],
  [[-5807,0.84],[-5740,0.6],[-5680,0.95],[-5610,0.7],[-5540,1.0],[-5470,0.55],[-5410,0.88],[-5350,0.3],[-5290,0.72],[-5230,0.5],[-5170,0.85],[-5100,0.62],[-5035,0.37],[-4956,0.89],[-5430,0.17],[-5579,1.23],
   [-5700,0.8],[-5640,0.55],[-5560,0.72],[-5500,0.6],[-5440,0.8],[-5380,0.62],[-5320,0.95],[-5260,0.75],[-5200,0.55],[-5050,0.6],
   [-5770,0.7],[-5710,0.9],[-5650,0.68],[-5580,0.6],[-5520,0.78],[-5460,0.65],[-5400,0.72],[-5340,0.62],[-5280,0.8],[-5220,0.65],[-5150,0.75],[-5000,0.52]],
  [[-5810,0.58],[-5760,0.85],[-5700,0.4],[-5630,0.78],[-5560,0.55],[-5500,0.92],[-5440,0.68],[-5380,0.45],[-5320,0.85],[-5260,0.62],[-5190,0.3],[-5130,0.72],[-5060,0.95],[-4908,1.08],[-5589,0.41],[-5114,1.11],
   [-5740,0.65],[-5660,0.9],[-5590,0.65],[-5530,0.72],[-5470,0.85],[-5410,0.52],[-5350,0.72],[-5290,0.6],[-5220,0.9],[-5160,0.62],
   [-5780,0.75],[-5720,0.55],[-5640,0.62],[-5580,0.85],[-5520,0.6],[-5460,0.75],[-5400,0.82],[-5340,0.6],[-5270,0.7],[-5200,0.82],[-5100,0.5],[-4990,0.62]],
  [[-5801,0.47],[-5674,1.33],[-5600,0.65],[-5530,0.82],[-5484,1.24],[-5420,0.6],[-5360,0.98],[-5304,0.14],[-5272,0.06],[-5200,0.78],[-5146,0.06],[-5123,0.31],[-5000,0.7],[-4870,0.64],[-5380,0.38],[-5250,0.5],
   [-5720,0.72],[-5650,0.8],[-5570,0.55],[-5510,0.95],[-5450,0.75],[-5390,0.68],[-5330,0.52],[-5280,0.88],[-5220,0.7],[-5080,0.55],
   [-5760,0.6],[-5690,0.65],[-5620,0.85],[-5560,0.68],[-5490,0.62],[-5430,0.85],[-5370,0.58],[-5310,0.78],[-5250,0.62],[-5170,0.72],[-5110,0.85],[-5030,0.5]]
];
const wtdX4_precisionOnly = [
  [[-7054,2.88],[-6997,2.48],[-6854,2.65],[-6760,2.9],[-6700,2.55],[-6611,2.16],[-6560,2.7],[-6500,2.45],[-6443,2.08],[-6427,2.01],[-6380,2.6],[-6300,2.3],[-6206,2.48],[-6190,2.68],[-6095,2.2],[-6047,2.18],
   [-6880,2.55],[-6800,2.7],[-6740,2.42],[-6650,2.85],[-6600,2.5],[-6530,2.6],[-6470,2.3],[-6420,2.75],[-6340,2.5],[-6260,2.65],
   [-6920,2.75],[-6820,2.45],[-6720,2.68],[-6680,2.4],[-6580,2.62],[-6520,2.75],[-6460,2.55],[-6400,2.45],[-6320,2.7],[-6240,2.4],[-6160,2.55],[-6620,2.3]],
  [[-6930,2.95],[-6820,2.8],[-6750,3.1],[-6680,2.75],[-6620,3.0],[-6560,2.95],[-6500,2.82],[-6450,3.15],[-6400,2.75],[-6350,2.95],[-6300,2.62],[-6250,3.0],[-6032,3.05],[-6700,2.35],[-6480,2.3],[-6560,3.25],
   [-6880,3.05],[-6790,2.6],[-6710,2.9],[-6650,2.65],[-6590,2.8],[-6530,3.05],[-6470,2.65],[-6420,2.95],[-6330,2.8],[-6210,2.85],
   [-6840,2.95],[-6760,2.75],[-6690,3.05],[-6640,2.85],[-6580,3.1],[-6520,2.9],[-6460,2.78],[-6380,3.05],[-6300,2.9],[-6240,2.72],[-6160,2.9],[-6900,2.6]],
  [[-7092,2.75],[-6902,3.4],[-6800,3.55],[-6696,3.6],[-6640,3.3],[-6585,3.65],[-6520,3.4],[-6460,3.2],[-6389,3.54],[-6307,3.52],[-6222,3.42],[-6142,3.05],[-6085,3.28],[-6032,3.4],[-6016,2.58],[-6700,3.1],
   [-6960,3.35],[-6850,3.2],[-6760,3.45],[-6730,3.25],[-6610,3.5],[-6560,3.1],[-6500,3.55],[-6440,3.4],[-6350,3.3],[-6260,3.35],
   [-6930,3.5],[-6870,3.3],[-6780,3.6],[-6700,3.42],[-6650,3.6],[-6590,3.35],[-6530,3.5],[-6470,3.35],[-6410,3.42],[-6290,3.45],[-6180,3.3],[-6100,3.45]],
  [[-6950,3.3],[-6860,3.15],[-6780,3.35],[-6720,3.0],[-6650,3.5],[-6590,3.2],[-6540,3.45],[-6480,3.0],[-6420,3.3],[-6360,3.1],[-6280,3.25],[-6200,3.15],[-6860,2.7],[-5937,2.6],[-6600,2.6],[-6260,2.8],
   [-6900,3.1],[-6820,3.4],[-6740,3.2],[-6690,3.35],[-6620,3.15],[-6560,3.55],[-6500,3.25],[-6450,3.45],[-6390,3.15],[-6320,3.4],
   [-6920,3.45],[-6840,3.28],[-6770,3.5],[-6710,3.2],[-6660,3.4],[-6600,3.3],[-6540,3.2],[-6470,3.38],[-6410,3.5],[-6340,3.25],[-6240,3.45],[-6150,3.2]]
];
const wtdX4_irrelevant = [
  [[-7275,2.15],[-7203,2.2],[-7250,2.3],[-7150,2.4],[-7320,2.5],[-7100,2.6],[-7200,2.5],[-7050,2.55],[-7280,2.7],[-7130,2.75],[-7000,2.85],[-7230,2.62],[-7180,2.35],[-7260,2.05],
   [-7300,2.35],[-7220,2.42],[-7160,2.55],[-7080,2.7],[-7250,2.8],[-7150,2.9],
   [-7330,2.3],[-7240,2.4],[-7190,2.6],[-7120,2.5],[-7060,2.7],[-7290,2.62],[-7200,2.22],[-7140,2.85]],
  [[-7329,2.4],[-7187,2.68],[-7377,2.62],[-7076,2.48],[-6997,3.18],[-6981,3.35],[-7250,2.85],[-7120,2.8],[-7300,2.95],[-7050,2.95],[-7200,3.1],[-7380,2.9],[-7150,2.55],[-7020,2.7],
   [-7280,2.55],[-7220,2.75],[-7100,2.65],[-7060,3.05],[-7260,3.0],[-7340,2.75],
   [-7350,2.5],[-7260,2.65],[-7180,2.9],[-7110,2.95],[-7040,2.85],[-7310,2.85],[-7190,2.6],[-7080,3.1]],
  [[-7478,3.62],[-7377,3.59],[-7282,3.7],[-7171,3.74],[-7092,3.62],[-6981,3.57],[-7440,3.12],[-7456,2.82],[-7510,2.58],[-7123,3.02],[-7350,3.35],[-7250,3.45],[-7180,3.25],[-7300,3.05],[-7400,3.3],[-7220,2.9],[-7100,3.35],[-7330,2.7],[-7040,3.2],[-7260,3.6],
   [-7420,3.5],[-7320,3.55],[-7200,3.55],[-7380,3.2],[-7280,3.25],[-7160,3.45],[-7240,3.1],[-7450,2.95],
   [-7480,3.3],[-7410,3.45],[-7330,3.62],[-7230,3.7],[-7140,3.6],[-7430,2.75],[-7360,3.0],[-7290,3.4],[-7190,3.35],[-7060,3.45]]
];

// ---- sizing: designed on a 4800x3000 canvas, stretched to fill the actual viewport ----
const W = window.innerWidth || 4800;
const H = window.innerHeight || 3000;
const S = Math.sqrt((W / 4800) * (H / 3000));
const px = v => v * S;

const FONT = 'Liberation Sans, Arial, Helvetica, sans-serif';
// drawOrder: which sub-series is painted first (lighter ones underneath)
const groups = [
  { title: 'Bias-precision', labels: biasPrecisionLabels, symbol: 'circle', size: 29,
    colors: ['#2B4C9B', '#6AAEDC', '#4FB3E6', '#2E2A8C'], drawOrder: [1, 2, 0, 3] },
  { title: 'Bias-only', labels: biasOnlyLabels, symbol: 'square', size: 30,
    colors: ['#CC6677', '#AA4499', '#E35565', '#861650'], drawOrder: [0, 2, 1, 3] },
  { title: 'Precision-only', labels: precisionOnlyLabels, symbol: 'triangle-up', size: 37,
    colors: ['#1B7B24', '#117733', '#999933', '#DDCC77'], drawOrder: [3, 2, 0, 1] },
  { title: 'Irrelevant', labels: irrelevantLabels, symbol: 'diamond', size: 23,
    colors: ['#D1D1D1', '#ADADAD', '#6F7981'], drawOrder: [0, 1, 2] }
];
const POINT_OPACITY = 0.74;
const KEY_OPACITY = 0.5;
const panels = [
  { xa: 'x',  ya: 'y',  sets: [psisX2_biasPrecision, psisX2_biasOnly, psisX2_precisionOnly, psisX2_irrelevant] },
  { xa: 'x2', ya: 'y2', sets: [wtdX2_biasPrecision, wtdX2_biasOnly, wtdX2_precisionOnly, wtdX2_irrelevant] },
  { xa: 'x3', ya: 'y3', sets: [psisX4_biasPrecision, psisX4_biasOnly, psisX4_precisionOnly, psisX4_irrelevant] },
  { xa: 'x4', ya: 'y4', sets: [wtdX4_biasPrecision, wtdX4_biasOnly, wtdX4_precisionOnly, wtdX4_irrelevant] }
];

const traces = [];
panels.forEach(p => {
  p.sets.forEach((set, gi) => {
    const g = groups[gi];
    g.drawOrder.forEach(k => {
      const pts = set[k];
      traces.push({
        type: 'scatter', mode: 'markers',
        x: pts.map(d => d[0]), y: pts.map(d => d[1]),
        xaxis: p.xa, yaxis: p.ya,
        name: g.labels[k], showlegend: false, hoverinfo: 'skip',
        marker: { symbol: g.symbol, size: px(g.size), color: g.colors[k], opacity: POINT_OPACITY, line: { width: 0 } }
      });
    });
  });
});

// legend: keys drawn on a hidden axis pair measured in design pixels
const legendColX = [1136, 1998, 2668, 3359];   // key column centres
const legendTitleX = [1207, 2055, 2743, 3386];
const legendTextGap = 89;
const legendTitleY = 2536, legendRow0 = 2628, legendRowGap = 76;
groups.forEach((g, gi) => {
  traces.push({
    type: 'scatter', mode: 'markers', xaxis: 'x5', yaxis: 'y5', showlegend: false, hoverinfo: 'skip',
    x: g.labels.map(() => legendColX[gi]),
    y: g.labels.map((_, k) => legendRow0 + k * legendRowGap),
    marker: { symbol: g.symbol, size: px(g.size), color: g.colors, opacity: KEY_OPACITY, line: { width: 0 } }
  });
});

// panel geometry (paper fractions)
const colDom = [[0.05375, 0.49313], [0.50479, 0.94479]];
const rowDom = [[0.6107, 0.9323], [0.27, 0.5915]];
const xRanges = [[-700, -329], [-7709, -3342]];
const yRanges = [[-0.09, 2.93], [-0.13, 3.91]];

function axis(extra) {
  return Object.assign({
    showline: true, mirror: true, linecolor: '#333333', linewidth: px(5),
    showgrid: true, gridcolor: '#EBEBEB', gridwidth: px(8.5), zeroline: false,
    tickfont: { family: FONT, size: px(84), color: '#4D4D4D' },
    tickcolor: '#333333', tickwidth: px(5), ticklen: px(26),
    fixedrange: true
  }, extra);
}
const minorGrid = dt => ({ tickmode: 'linear', tick0: 0, dtick: dt, showgrid: true, gridcolor: '#EBEBEB', gridwidth: px(4.5), ticks: '' });
const xTicks = (vals, text) => ({ tickmode: 'array', tickvals: vals, ticktext: text });

const layout = {
  width: W, height: H,
  margin: { l: 0, r: 0, t: 0, b: 0, pad: 0 },
  paper_bgcolor: '#FFFFFF', plot_bgcolor: 'rgba(0,0,0,0)',
  font: { family: FONT, color: '#000000' },
  showlegend: false,
  xaxis:  axis(Object.assign({ domain: colDom[0], range: xRanges[0], anchor: 'y',  minor: minorGrid(50),  showticklabels: false, ticks: '' }, xTicks(xTicksPsis, xTickTextPsis))),
  xaxis2: axis(Object.assign({ domain: colDom[1], range: xRanges[1], anchor: 'y2', minor: minorGrid(500), showticklabels: false, ticks: '' }, xTicks(xTicksWtd, xTickTextWtd))),
  xaxis3: axis(Object.assign({ domain: colDom[0], range: xRanges[0], anchor: 'y3', minor: minorGrid(50),  ticks: 'outside' }, xTicks(xTicksPsis, xTickTextPsis))),
  xaxis4: axis(Object.assign({ domain: colDom[1], range: xRanges[1], anchor: 'y4', minor: minorGrid(500), ticks: 'outside' }, xTicks(xTicksWtd, xTickTextWtd))),
  yaxis:  axis({ domain: rowDom[0], range: yRanges[0], anchor: 'x',  tick0: 0, dtick: 1, minor: minorGrid(0.5), ticks: 'outside', ticklabelstandoff: px(2) }),
  yaxis2: axis({ domain: rowDom[0], range: yRanges[0], anchor: 'x2', tick0: 0, dtick: 1, minor: minorGrid(0.5), showticklabels: false, ticks: '' }),
  yaxis3: axis({ domain: rowDom[1], range: yRanges[1], anchor: 'x3', tick0: 0, dtick: 1, minor: minorGrid(0.5), ticks: 'outside', ticklabelstandoff: px(2) }),
  yaxis4: axis({ domain: rowDom[1], range: yRanges[1], anchor: 'x4', tick0: 0, dtick: 1, minor: minorGrid(0.5), showticklabels: false, ticks: '' }),
  xaxis5: { domain: [0, 1], range: [0, 4800], anchor: 'y5', visible: false, fixedrange: true },
  yaxis5: { domain: [0, 0.17], range: [3000, 2490], anchor: 'x5', visible: false, fixedrange: true },
  shapes: [],
  annotations: []
};

// legend titles and labels
groups.forEach((g, gi) => {
  layout.annotations.push({ xref: 'x5', yref: 'y5', x: legendTitleX[gi], y: legendTitleY, xanchor: 'left', yanchor: 'middle',
    text: '<b>' + g.title + '</b>', showarrow: false, font: { family: FONT, size: px(74), color: '#000000' } });
  g.labels.forEach((lab, k) => {
    layout.annotations.push({ xref: 'x5', yref: 'y5', x: legendColX[gi] + legendTextGap, y: legendRow0 + k * legendRowGap,
      xanchor: 'left', yanchor: 'middle', text: lab, showarrow: false, font: { family: FONT, size: px(78), color: '#000000' } });
  });
});

// facet strips
const stripLine = { color: '#333333', width: px(5) };
const stripTop = [0.9323, 0.9853], stripRight = [0.94479, 0.97771];
colDom.forEach((d, i) => {
  layout.shapes.push({ type: 'rect', xref: 'paper', yref: 'paper', x0: d[0], x1: d[1], y0: stripTop[0], y1: stripTop[1],
    fillcolor: '#D4D4D4', line: stripLine });
  layout.annotations.push({ xref: 'paper', yref: 'paper', x: (d[0] + d[1]) / 2, y: (stripTop[0] + stripTop[1]) / 2,
    xanchor: 'center', yanchor: 'middle', text: colLabels[i], showarrow: false,
    font: { family: FONT, size: px(84), color: '#1A1A1A' } });
});
rowDom.forEach((d, i) => {
  layout.shapes.push({ type: 'rect', xref: 'paper', yref: 'paper', x0: stripRight[0], x1: stripRight[1], y0: d[0], y1: d[1],
    fillcolor: '#D4D4D4', line: stripLine });
  layout.annotations.push({ xref: 'paper', yref: 'paper', x: (stripRight[0] + stripRight[1]) / 2, y: (d[0] + d[1]) / 2,
    xanchor: 'center', yanchor: 'middle', text: rowLabels[i], textangle: 90, showarrow: false,
    font: { family: FONT, size: px(84), color: '#1A1A1A' } });
});

// correlation labels
const corPos = [['x', 'y', -352, 2.49], ['x2', 'y2', -3630, 2.49], ['x3', 'y3', -351, 2.48], ['x4', 'y4', -3611, 2.48]];
corPos.forEach((c, i) => {
  layout.annotations.push({ xref: c[0], yref: c[1], x: c[2], y: c[3], xanchor: 'right', yanchor: 'middle',
    text: corLabels[i], showarrow: false, font: { family: FONT, size: px(100), color: '#000000' } });
});

// axis titles
layout.annotations.push({ xref: 'paper', yref: 'paper', x: 0.4993, y: 0.204, xanchor: 'center', yanchor: 'middle',
  text: 'PSIS-LOO-based model score', showarrow: false, font: { family: FONT, size: px(105), color: '#000000' } });
layout.annotations.push({ xref: 'paper', yref: 'paper', x: 0.018, y: 0.6017, xanchor: 'center', yanchor: 'middle',
  text: 'Interval score', textangle: -90, showarrow: false, font: { family: FONT, size: px(105), color: '#000000' } });

Plotly.newPlot('chart', traces, layout, { displayModeBar: false, staticPlot: true });
</script>
</body>
</html>
